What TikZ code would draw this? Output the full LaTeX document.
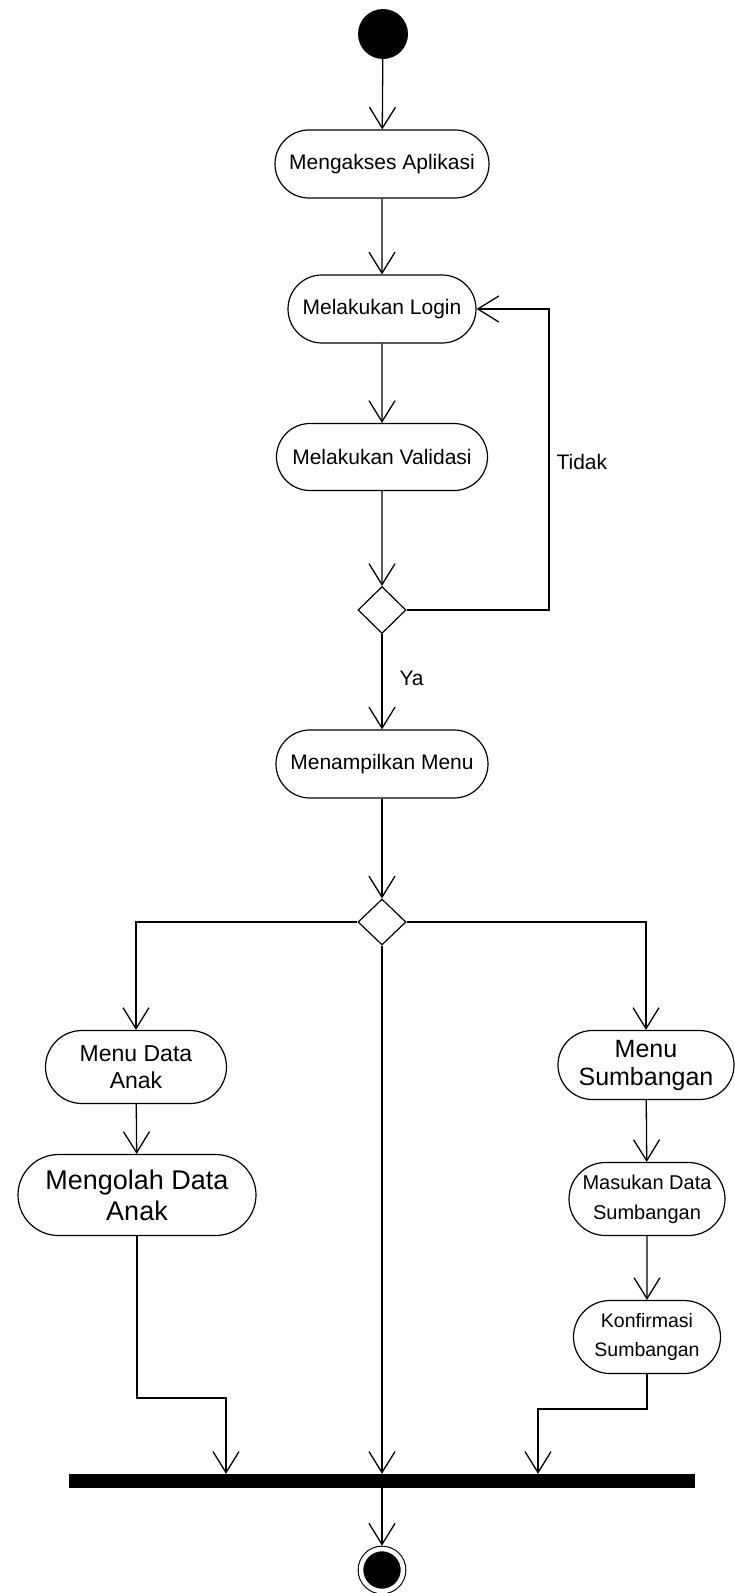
\documentclass[tikz,border=0pt]{standalone}
\usepackage{fontspec}
\setmainfont{Liberation Sans}
\usetikzlibrary{arrows.meta, shapes.misc, shapes.geometric, positioning}
\tikzset{>={Straight Barb[length=21pt,width=26pt]}, font=\fontsize{21}{25}\selectfont}

\begin{document}
\begin{tikzpicture}[x=1pt, y=-1pt,
activity/.style={
  rounded rectangle,
  draw,
  line width=1.2pt,
  align=center,
  inner sep=1pt,
  minimum height=68pt
  },
decision/.style={
  diamond,
  draw,
  line width=1.2pt,
  minimum width=48pt,
  minimum height=47pt,
  inner sep=0pt
  },
bigfont/.style 2 args={
  font=\fontsize{#1}{#2}\selectfont
  },
flow/.style={
  line width=1.3pt,
  ->
  }
]
\useasboundingbox (0,0) rectangle (735,1593);

%the start and the main column
\node[circle, fill=black, minimum size=50pt, inner sep=0pt] (start) at (383,34) {};
\node[activity, minimum width=216pt] (akses) at (382,164) {Mengakses Aplikasi};
\node[activity, minimum width=190pt] (login) at (382,309) {Melakukan Login};
\node[activity, minimum width=213pt, minimum height=67pt] (valid) at (382,457) {Melakukan Validasi};
\node[decision] (cek) at (382,610) {};
\node[activity, minimum width=214pt] (menu) at (382,764) {Menampilkan Menu};
\node[decision, minimum height=46pt] (pilih) at (382,922) {};

%the left branch
\node[activity, bigfont={23}{27}, minimum width=183pt, minimum height=73pt] (anak) at (136,1067) {Menu Data\\Anak};
\node[activity, bigfont={27}{31}, minimum width=240pt, minimum height=81pt] (olah) at (137,1195) {Mengolah Data\\Anak};

%the right branch
\node[activity, bigfont={25}{28}, minimum width=178pt, minimum height=69pt] (sumb) at (646,1065) {Menu\\Sumbangan};
\node[activity, bigfont={20}{30}, minimum width=158pt, minimum height=73pt] (masuk) at (647,1199) {Masukan Data\\Sumbangan};
\node[activity, bigfont={19.5}{29}, minimum width=149pt, minimum height=73pt] (konf) at (647,1337) {Konfirmasi\\Sumbangan};

%the join bar and the end
\node[rectangle, fill=black, minimum width=626pt, minimum height=14pt, inner sep=0pt] (bar) at (382,1481) {};
\node[circle, fill=black, draw=black, line width=1.1pt, double=white, double distance=4.5pt,
  minimum size=42pt, inner sep=0pt, outer sep=3.4pt] (stop) at (382,1570) {};

\coordinate (tidak) at (549,610);
\coordinate (jl) at (226,1398);
\coordinate (jr) at (538,1409);

%the connectors
\draw[flow] (start) -- (akses);
\draw[flow] (akses) -- (login);
\draw[flow] (login) -- (valid);
\draw[flow] (valid) -- (cek);
\draw[flow] (cek.east) -- (tidak) |- (login.east);
\draw[flow] (cek) -- (menu);
\draw[flow] (menu.south) -- (pilih.north);
\draw[flow] (pilih.west) -| (anak.north);
\draw[flow] (pilih.east) -| (sumb.north);
\draw[flow] (anak) -- (olah);
\draw[flow] (sumb) -- (masuk);
\draw[flow] (masuk) -- (konf);
\draw[flow] (olah.south) |- (jl) -- (jl |- bar.north);
\draw[flow] (konf.south) |- (jr) -- (jr |- bar.north);
\draw[flow] (pilih.south) -- (pilih.south |- bar.north);
\draw[flow] (bar.south) -- (stop.north);

%the labels
\node[anchor=west] (ya) at (396,678) {Ya};
\node[anchor=west] (td) at (553,462) {Tidak};

\end{tikzpicture}
\end{document}
